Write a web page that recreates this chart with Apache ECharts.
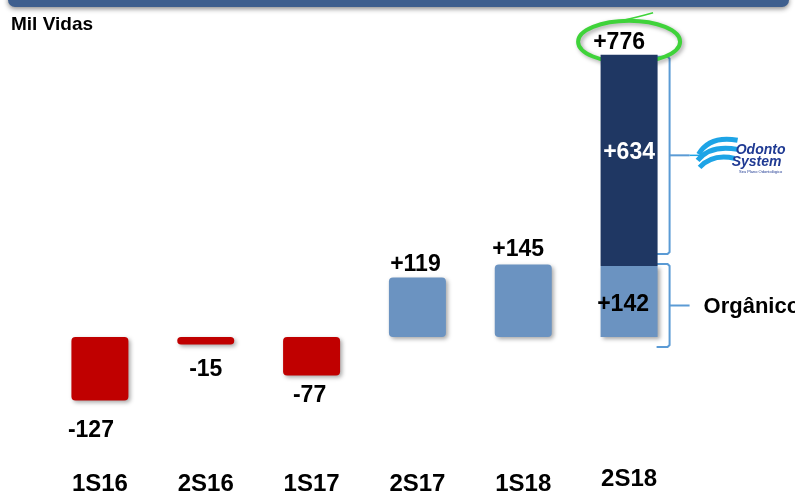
<!DOCTYPE html>
<html><head><meta charset="utf-8">
<script src="https://cdn.jsdelivr.net/npm/echarts@6/dist/echarts.min.js"></script>
<style>html,body{margin:0;padding:0;background:#fff}#c{width:795px;height:496px}</style>
</head><body><div id="c"></div>
<script>
// ---- data ----
const categories = ['1S16', '2S16', '1S17', '2S17', '1S18', '2S18'];
const netAdds = [-127, -15, -77, 119, 145, 142];   // 2S18 = organic part
const odontoSystem2S18 = 634;                       // acquisition part of 2S18
const unitLabel = 'Mil Vidas';
const organicLabel = 'Orgânico';

// ---- styles / layout ----
const FONT = '"Liberation Sans", Arial, Helvetica, sans-serif';
const RED = '#c00000', LIGHT = '#6b93c1', DARK = '#1f3763';
const BAR_W = 57;
const AX0 = {min: -200, max: 600};   // 0.5 px / unit
const AX1 = {min: -300, max: 900};   // compressed scale for the acquisition block
const RATIO = (AX1.max - AX1.min) / (AX0.max - AX0.min);
const labelLayout = [
  {position: 'bottom', distance: 19, offset: [-9, 0]},
  {position: 'bottom', distance: 14, offset: [0, 0]},
  {position: 'bottom', distance: 9, offset: [-2, 0]},
  {position: 'top', distance: 1, offset: [-2, 0]},
  {position: 'top', distance: 3, offset: [-5, 0]},
  {position: 'inside', offset: [-6, 3]}
];
const fmt = v => (v > 0 ? '+' : '') + v;

const chart = echarts.init(document.getElementById('c'), null, {renderer: 'canvas'});
const last = categories.length - 1;
const mainData = netAdds.map((v, i) => ({
  value: v,
  itemStyle: {
    color: v < 0 ? RED : LIGHT,
    borderRadius: i === last ? 0 : 4
  },
  label: Object.assign({show: true, formatter: fmt(v)}, labelLayout[i])
}));
const base2S18 = netAdds[last] * RATIO;
const baseData = categories.map((c, i) => i === last ? base2S18 : '-');
const acqData = categories.map((c, i) => i === last ? odontoSystem2S18 : '-');

const valueLabelStyle = {fontFamily: FONT, fontSize: 23, fontWeight: 'bold', color: '#000'};

chart.setOption({
  animation: false,
  title: {
    text: unitLabel, left: 11, top: 15, padding: 0,
    textStyle: {fontFamily: FONT, fontSize: 19, fontWeight: 'bold', color: '#000'}
  },
  grid: {left: 47, right: 113, top: 37, bottom: 59, outerBoundsMode: 'none', containLabel: false},
  xAxis: {
    type: 'category',
    data: categories.map((c, i) => i === last
      ? {value: c, textStyle: {verticalAlign: 'bottom', lineHeight: 9}}
      : c),
    axisLine: {show: false}, axisTick: {show: false}, splitLine: {show: false},
    axisLabel: {
      margin: 47, verticalAlign: 'middle', interval: 0,
      fontFamily: FONT, fontSize: 24, fontWeight: 'bold', color: '#000'
    }
  },
  yAxis: [
    {type: 'value', min: AX0.min, max: AX0.max, show: false, splitLine: {show: false}},
    {type: 'value', min: AX1.min, max: AX1.max, show: false, splitLine: {show: false}}
  ],
  series: [
    {
      type: 'bar', name: 'net', yAxisIndex: 0, barWidth: BAR_W, barGap: '-100%',
      data: mainData,
      itemStyle: {shadowBlur: 4, shadowColor: 'rgba(0,0,0,0.35)', shadowOffsetX: 2, shadowOffsetY: 2},
      label: valueLabelStyle
    },
    {
      type: 'bar', name: 'base', yAxisIndex: 1, stack: 'acq', barWidth: BAR_W, barGap: '-100%',
      data: baseData, silent: true,
      itemStyle: {color: 'rgba(0,0,0,0)'}
    },
    {
      type: 'bar', name: 'Odonto System', yAxisIndex: 1, stack: 'acq', barWidth: BAR_W, barGap: '-100%',
      data: acqData,
      itemStyle: {color: DARK},
      label: {
        show: true, position: 'inside', offset: [0, -8],
        formatter: p => fmt(p.value),
        fontFamily: FONT, fontSize: 23, fontWeight: 'bold', color: '#fff'
      }
    }
  ]
});

// ---- annotations tied to the bar positions ----
const [cx, zeroY] = chart.convertToPixel({xAxisIndex: 0, yAxisIndex: 0}, [categories[last], 0]);
const orgTop = chart.convertToPixel({xAxisIndex: 0, yAxisIndex: 0}, [categories[last], netAdds[last]])[1];
const darkTop = chart.convertToPixel({xAxisIndex: 0, yAxisIndex: 1}, [categories[last], base2S18 + odontoSystem2S18])[1];
const total = netAdds[last] + odontoSystem2S18;
const right = cx + BAR_W / 2;
const xv = right + 12, xt = right + 32;
const BR = '#5b9bd5';

function brace(y1, y2) {
  const mid = (y1 + y2) / 2;
  return [
    {type: 'polyline', shape: {points: [[right - 1, y1], [xv - 2, y1], [xv, y1 + 2], [xv, y2 - 2], [xv - 2, y2], [right - 1, y2]]},
     style: {stroke: BR, lineWidth: 2, fill: null}},
    {type: 'line', shape: {x1: xv, y1: mid, x2: xt, y2: mid}, style: {stroke: BR, lineWidth: 2}}
  ];
}
const topB = [darkTop + 2, orgTop - 12];
const botB = [orgTop - 2, zeroY + 10];
const logoY = (topB[0] + topB[1]) / 2;
const orgY = (botB[0] + botB[1]) / 2;
const WAVE = '#1ea4e6';
const lx = xt;

const elements = [
  {type: 'rect', shape: {x: 8, y: -14, width: 781, height: 21, r: 7},
   style: {fill: '#3e5f8e', shadowBlur: 5, shadowColor: 'rgba(0,0,0,0.45)', shadowOffsetY: 2}},
  ...brace(topB[0], topB[1]),
  ...brace(botB[0], botB[1]),
  {type: 'text', style: {text: organicLabel, x: xt + 14, y: orgY + 1, font: 'bold 22px ' + FONT,
    fill: '#000', textAlign: 'left', textVerticalAlign: 'middle'}},
  // logo line & waves
  {type: 'line', shape: {x1: lx, y1: logoY, x2: lx + 12, y2: logoY}, style: {stroke: WAVE, lineWidth: 1.5}},
  {type: 'bezierCurve', shape: {x1: lx + 9, y1: logoY - 1, cpx1: lx + 20, cpy1: logoY - 20, x2: lx + 48, y2: logoY - 15},
   style: {stroke: WAVE, lineWidth: 5, fill: null}},
  {type: 'bezierCurve', shape: {x1: lx + 8, y1: logoY + 5, cpx1: lx + 21, cpy1: logoY - 11, x2: lx + 48, y2: logoY - 6},
   style: {stroke: WAVE, lineWidth: 5, fill: null}},
  {type: 'bezierCurve', shape: {x1: lx + 10, y1: logoY + 12, cpx1: lx + 23, cpy1: logoY - 2, x2: lx + 45, y2: logoY + 3},
   style: {stroke: WAVE, lineWidth: 5, fill: null}},
  {type: 'text', style: {text: 'Odonto', x: lx + 71, y: logoY - 5, font: 'italic bold 14px ' + FONT,
    fill: '#1f3a93', textAlign: 'center', textVerticalAlign: 'middle'}},
  {type: 'text', style: {text: 'System', x: lx + 67, y: logoY + 7, font: 'italic bold 14px ' + FONT,
    fill: '#1f3a93', textAlign: 'center', textVerticalAlign: 'middle'}},
  {type: 'text', style: {text: 'Seu Plano Odontológico', x: lx + 71, y: logoY + 17, font: '4px ' + FONT,
    fill: '#1f3a93', textAlign: 'center', textVerticalAlign: 'middle'}},
  // green highlight round the total
  {type: 'ellipse', shape: {cx: cx, cy: darkTop - 13, rx: 51, ry: 21},
   style: {fill: null, stroke: '#3fd33a', lineWidth: 4, shadowBlur: 4, shadowColor: 'rgba(0,0,0,0.35)', shadowOffsetX: 2, shadowOffsetY: 2}},
  {type: 'bezierCurve', shape: {x1: cx - 8, y1: darkTop - 34, cpx1: cx + 10, cpy1: darkTop - 38, x2: cx + 24, y2: darkTop - 42},
   style: {stroke: '#3fd33a', lineWidth: 1.5, fill: null}},
  {type: 'text', style: {text: fmt(total), x: cx - 10, y: darkTop - 12, font: 'bold 23px ' + FONT,
    fill: '#000', textAlign: 'center', textVerticalAlign: 'middle'}}
];
chart.setOption({graphic: {elements: elements}});
</script>
</body></html>
